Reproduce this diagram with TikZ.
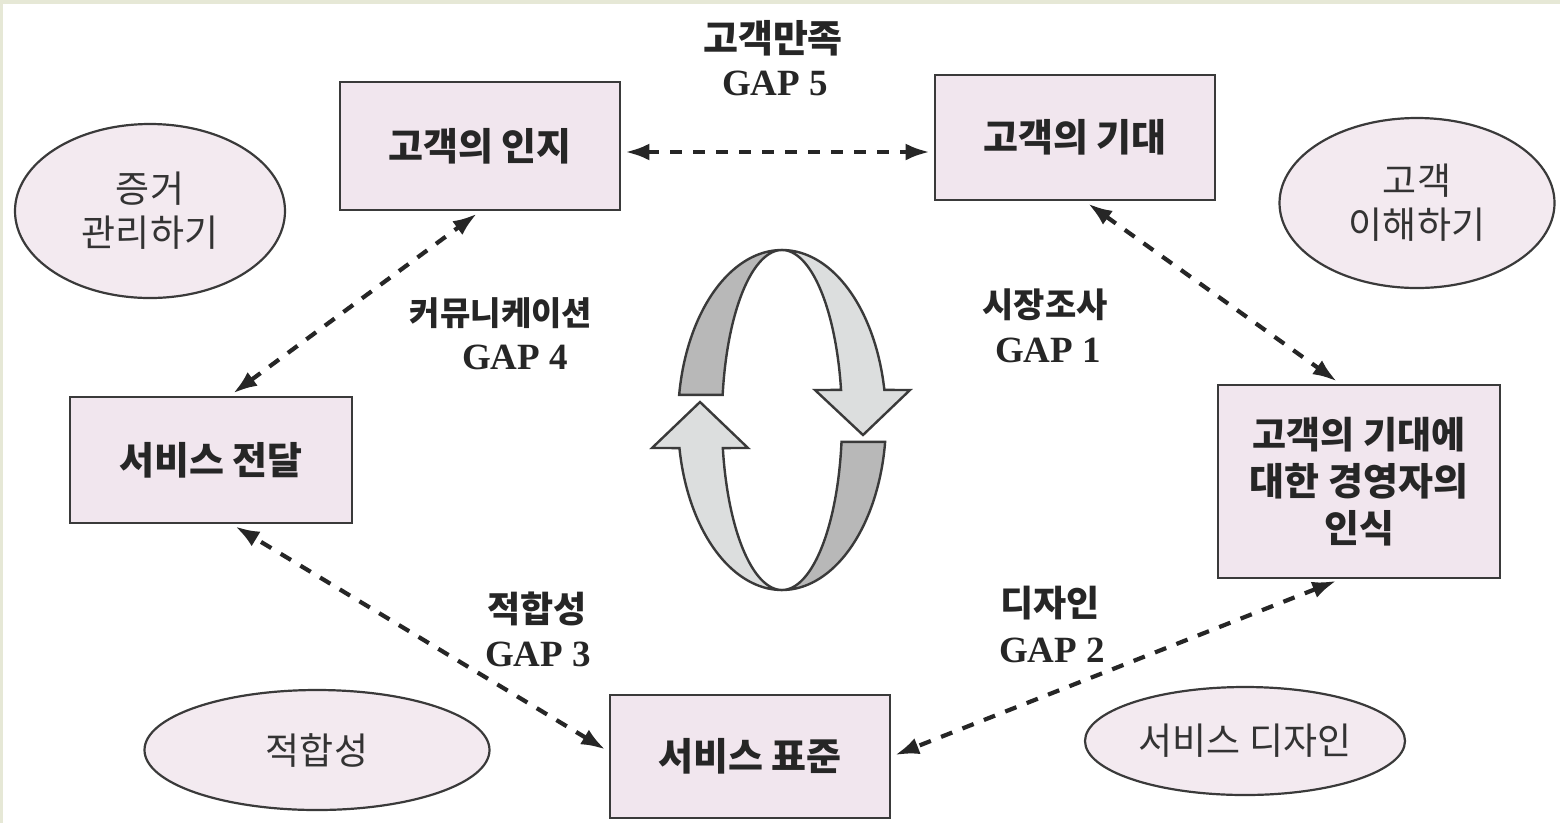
\documentclass[tikz,border=0pt]{standalone}
\usepackage{fontspec}
\usetikzlibrary{arrows.meta,shapes.geometric,calc}
\newfontfamily\kr{Noto Sans CJK KR}
\newfontfamily\gapf{Liberation Serif}
\definecolor{boxfill}{HTML}{F1E6EE}
\definecolor{ovalfill}{HTML}{F3EAF0}
\definecolor{linec}{HTML}{3A3A3A}
\definecolor{darkband}{HTML}{B8B8B8}
\definecolor{lightband}{HTML}{DCDEDE}
\definecolor{bordc}{HTML}{E6E8D6}
\tikzset{
  box/.style={draw=linec, line width=2.8pt, fill=boxfill, font=\kr\bfseries\fontsize{38}{47}\selectfont, align=center, inner sep=0pt, text=black!85},
  oval/.style={ellipse, draw=linec, line width=2.2pt, fill=ovalfill, font=\kr\fontsize{37}{44}\selectfont, align=center, inner sep=0pt, text=black!80},
  lbl/.style={font=\kr\bfseries\fontsize{36}{40}\selectfont, inner sep=0pt, text=black!85},
  gap/.style={font=\gapf\bfseries\fontsize{37}{40}\selectfont, inner sep=0pt, text=black!85},
  link/.style={draw=black!85, line width=4.2pt, dash pattern=on 12pt off 11pt, {Latex[length=24pt,width=17pt]}-{Latex[length=24pt,width=17pt]}, shorten <=4pt, shorten >=4pt},
  band/.style={draw=linec, line width=2.4pt}
}
\begin{document}
\begin{tikzpicture}[x=1pt,y=-1pt]
\useasboundingbox (0,0) rectangle (1560,823);
\fill[bordc] (0,0) rectangle (1560,823);
\fill[white] (3,4) rectangle (1560,823);

% boxes
\node[box, minimum width=280pt, minimum height=128pt] (inji) at (480,146) {고객의 인지};
\node[box, minimum width=280pt, minimum height=125pt] (gidae) at (1075,137.5) {고객의 기대};
\node[box, minimum width=282pt, minimum height=193pt] (insik) at (1359,481.5) {\fontsize{37}{46}\selectfont 고객의 기대에\\대한 경영자의\\인식};
\node[box, minimum width=280pt, minimum height=123pt] (pyo) at (750,756.5) {서비스 표준};
\node[box, minimum width=282pt, minimum height=126pt] (jeon) at (211,460) {서비스 전달};

% ovals
\node[oval, minimum width=270pt, minimum height=174pt] (jeungeo) at (150,211) {증거\\관리하기};
\node[oval, minimum width=275pt, minimum height=170pt] (ihae) at (1417,203) {고객\\이해하기};
\node[oval, minimum width=345pt, minimum height=120pt] (jeokhap) at (317,750) {적합성};
\node[oval, minimum width=320pt, minimum height=108pt] (design) at (1245,741) {서비스 디자인};

% labels
\node[lbl, font=\kr\bfseries\fontsize{38}{40}\selectfont] (l5) at (773,38) {고객만족};
\node[gap] (g5) at (775,83) {GAP 5};
\node[lbl, font=\kr\bfseries\fontsize{33}{40}\selectfont] (l4) at (501,313) {커뮤니케이션};
\node[gap] (g4) at (515,357) {GAP 4};
\node[lbl, font=\kr\bfseries\fontsize{34}{40}\selectfont] (l1) at (1045,305) {시장조사};
\node[gap] (g1) at (1048,350) {GAP 1};
\node[lbl] (l3) at (537,609) {적합성};
\node[gap] (g3) at (538,654) {GAP 3};
\node[lbl] (l2) at (1050,603) {디자인};
\node[gap] (g2) at (1052,650) {GAP 2};

% connectors
\draw[link] ([yshift=-6pt]inji.east) -- ([yshift=-6pt]inji.east -| gidae.west);
\draw[link] ([xshift=10pt]gidae.south) -- ([xshift=-19pt]insik.north);
\draw[link] ([xshift=-19pt]insik.south) -- (pyo.east);
\draw[link] ([yshift=5pt]pyo.west) -- ([xshift=21pt]jeon.south);
\draw[link] ([xshift=19pt]jeon.north) -- (inji.south);

% cycle arrows
\filldraw[band, fill=darkband]
  plot[domain=90:171.5, variable=\t, samples=50] ({782+104*cos(\t)},{420-170*sin(\t)})
  -- plot[domain=171.5:90, variable=\t, samples=50] ({782+60*cos(\t)},{420-170*sin(\t)}) -- cycle;
\filldraw[band, fill=lightband]
  plot[domain=90:10.2, variable=\t, samples=50] ({782+104*cos(\t)},{420-170*sin(\t)})
  -- (910,390) -- (863,435) -- (815,390)
  -- plot[domain=10.2:90, variable=\t, samples=50] ({782+60*cos(\t)},{420-170*sin(\t)}) -- cycle;
\filldraw[band, fill=darkband]
  plot[domain=-7.4:-90, variable=\t, samples=50] ({782+104*cos(\t)},{420-170*sin(\t)})
  -- plot[domain=-90:-7.4, variable=\t, samples=50] ({782+60*cos(\t)},{420-170*sin(\t)}) -- cycle;
\filldraw[band, fill=lightband]
  plot[domain=270:189.5, variable=\t, samples=50] ({782+104*cos(\t)},{420-170*sin(\t)})
  -- (652,448) -- (700,402) -- (748,448)
  -- plot[domain=189.5:270, variable=\t, samples=50] ({782+60*cos(\t)},{420-170*sin(\t)}) -- cycle;
\end{tikzpicture}
\end{document}
